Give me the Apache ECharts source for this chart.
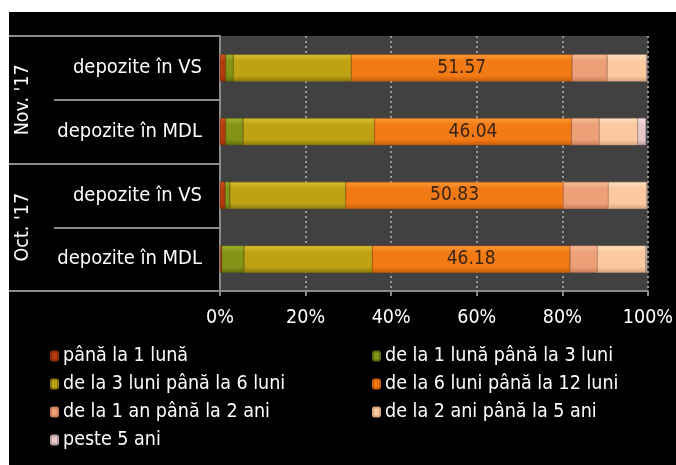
<!DOCTYPE html>
<html><head><meta charset="utf-8">
<script src="https://cdn.jsdelivr.net/npm/echarts@6/dist/echarts.min.js"></script>
<style>
html,body{margin:0;padding:0;background:#fff;width:676px;height:465px;overflow:hidden}
#c{position:absolute;left:9px;top:12px;width:667px;height:453px;background:#000}
</style></head>
<body><div id="c"></div>
<script>
// Categories, bottom to top
const subCategories = ["depozite în MDL", "depozite în VS", "depozite în MDL", "depozite în VS"];
const groupCategories = ["Oct. '17", "Nov. '17"];
const seriesNames = ["până la 1 lună", "de la 1 lună până la 3 luni", "de la 3 luni până la 6 luni",
  "de la 6 luni până la 12 luni", "de la 1 an până la 2 ani", "de la 2 ani până la 5 ani", "peste 5 ani"];
// values per series for [Oct MDL, Oct VS, Nov MDL, Nov VS]
const s1 = [0.4, 1.2, 1.3, 1.3];
const s2 = [5.2, 1.1, 4.1, 1.8];
const s3 = [30.0, 27.1, 30.7, 27.6];
const s4 = [46.18, 50.83, 46.04, 51.57];
const s5 = [6.4, 10.5, 6.5, 8.2];
const s6 = [11.3, 9.0, 8.95, 9.2];
const s7 = [0.3, 0.1, 1.95, 0.1];
const xTicks = [0, 20, 40, 60, 80, 100];

const allValues = [s1, s2, s3, s4, s5, s6, s7];
const baseColors = [
  ['#d8561c', '#b63a0c', '#8e2a06'],
  ['#a4b22a', '#849416', '#5e6c0c'],
  ['#dcc030', '#bea214', '#8e780a'],
  ['#ff9a3a', '#f27a14', '#c85c08'],
  ['#f8bc98', '#eca078', '#c87c58'],
  ['#ffe0c0', '#fbc9a0', '#d8a47c'],
  ['#f6e2e2', '#e6c8c8', '#b89c9c']
];
function grad(c) {
  return new echarts.graphic.LinearGradient(0, 0, 0, 1, [
    {offset: 0, color: c[0]}, {offset: 0.25, color: c[1]}, {offset: 0.8, color: c[1]}, {offset: 1, color: c[2]}
  ]);
}
const FONT = "'Liberation Sans Narrow', 'DejaVu Sans Condensed', 'Open Sans', sans-serif";

const series = allValues.map((vals, i) => ({
  name: seriesNames[i],
  type: 'bar',
  stack: 'total',
  barWidth: 27,
  data: vals,
  itemStyle: {color: grad(baseColors[i]), borderColor: baseColors[i][2], borderWidth: 0.5},
  label: i === 3 ? {show: true, position: 'inside', color: '#3a2412', fontSize: 19, fontFamily: FONT,
    formatter: p => p.value.toFixed(2)} : {show: false},
  emphasis: {disabled: true}
}));

const legendText = {color: '#ffffff', fontSize: 19.5, fontFamily: FONT};
const option = {
  backgroundColor: '#000',
  animation: false,
  grid: {left: 211, right: 28, top: 24, bottom: 174, show: true, backgroundColor: '#414141', borderWidth: 0},
  xAxis: {
    type: 'value', min: 0, max: 100, interval: 20,
    axisLine: {show: true, lineStyle: {color: '#8a8a8a', width: 2}},
    axisTick: {show: true, length: 5, lineStyle: {color: '#8a8a8a', width: 2}},
    axisLabel: {color: '#fff', fontSize: 19.5, fontFamily: FONT, margin: 17, formatter: v => v + '%'},
    splitLine: {show: true, lineStyle: {color: '#9a9a9a', width: 2, type: [2, 3]}}
  },
  yAxis: [
    {
      type: 'category', data: subCategories, position: 'left',
      axisLine: {show: true, lineStyle: {color: '#8a8a8a', width: 2}},
      axisTick: {show: true, length: 166, lineStyle: {color: '#8a8a8a', width: 2}},
      axisLabel: {color: '#fff', fontSize: 20, fontFamily: FONT, margin: 18}
    },
    {
      type: 'category', data: groupCategories, position: 'left',
      axisLine: {show: true, lineStyle: {color: '#8a8a8a', width: 2}},
      axisTick: {show: true, length: 211, lineStyle: {color: '#8a8a8a', width: 2}},
      axisLabel: {color: '#fff', fontSize: 19.5, fontFamily: FONT, rotate: 90, margin: 187}
    }
  ],
  legend: [
    {data: [seriesNames[0], seriesNames[2], seriesNames[4], seriesNames[6]], orient: 'vertical',
     left: 41, top: 334, padding: 0, itemWidth: 7, itemHeight: 9, itemGap: 8, textStyle: legendText, selectedMode: false},
    {data: [seriesNames[1], seriesNames[3], seriesNames[5]], orient: 'vertical',
     left: 363, top: 334, padding: 0, itemWidth: 7, itemHeight: 9, itemGap: 8, textStyle: legendText, selectedMode: false}
  ],
  series: series
};
const chart = echarts.init(document.getElementById('c'), null, {renderer: 'canvas'});
chart.setOption(option);
</script></body></html>
